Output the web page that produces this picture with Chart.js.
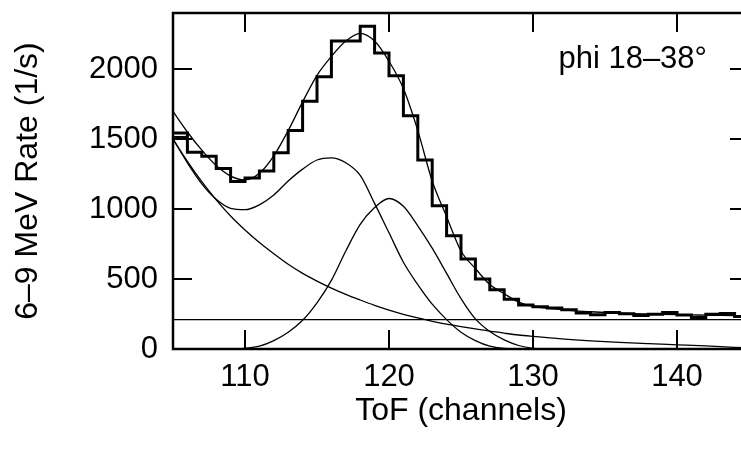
<!DOCTYPE html>
<html><head><meta charset="utf-8">
<script src="https://cdn.jsdelivr.net/npm/chart.js@4/dist/chart.umd.min.js"></script>
<style>html,body{margin:0;padding:0;overflow:hidden;background:#fff;width:741px;height:451px}canvas{display:block}</style>
</head><body>
<canvas id="c" width="770" height="451" style="width:770px;height:451px"></canvas>
<script>
// ---- data ----
const histChannels = [105,106,107,108,109,110,111,112,113,114,115,116,117,118,119,120,121,122,123,124,125,126,127,128,129,130,131,132,133,134,135,136,137,138,139,140,141,142,143,144,145];
const histRates    = [1543,1405,1376,1290,1197,1221,1272,1402,1561,1769,1945,2200,2200,2305,2114,1952,1666,1350,1024,809,643,500,424,355,315,302,293,281,257,245,260,251,239,248,260,242,225,248,254,233,233];
const leadBinChannels = [105,106];
const leadBinRates = [1511,1511];

const fitChannels = [105,106,107,108,109,110,111,112,113,114,115,116,117,118,119,120,121,122,123,124,125,126,127,128,129,130,131,132,133,134,135,136,137,138,139,140,141,142,143,144,145];
const fitTotal    = [1697,1550,1420,1310,1235,1208,1255,1380,1560,1765,1955,2090,2200,2255,2200,2055,1860,1560,1200,945,700,575,460,395,335,305,292,282,272,266,261,256,252,250,248,246,244,242,240,238,236];

const peakAChannels = [105,106,107,108,109,110,111,112,113,114,115,116,117,118,119,120,121,122,123,124,125,126,127,128,129,130];
const peakAValues   = [1500,1330,1180,1070,1005,995,1030,1100,1200,1285,1350,1365,1330,1240,1040,830,620,460,320,210,120,60,20,4,0,0];

const peakBChannels = [105,106,107,108,109,110,111,112,113,114,115,116,117,118,119,120,121,122,123,124,125,126,127,128,129,130,131];
const peakBValues   = [0,0,0,0,0,5,20,60,120,205,330,490,700,890,1010,1075,1020,880,720,540,360,215,125,65,25,5,0];

const bgChannels = [105,106,107,108,109,110,111,112,113,114,115,116,117,118,119,120,121,122,123,124,125,126,127,128,129,130,132,134,136,138,140,142,144,145];
const bgValues   = [1500,1340,1195,1065,950,850,760,680,605,540,485,435,390,350,312,278,248,222,198,178,160,143,127,113,100,90,72,58,47,38,30,22,12,8];

const constChannels = [105,145];
const constLevel = [210,210];

const xTicks = [110,120,130,140];
const yTicks = [0,500,1000,1500,2000];
const xRange = [105,145];
const yRange = [0,2400];
const annotation = 'phi 18\u201338\u00b0';
const xTitle = 'ToF (channels)';
const yTitle = '6\u20139 MeV Rate (1/s)';

const FONT = '"Liberation Sans", Arial, Helvetica, sans-serif';
const pts = (xs, ys) => xs.map((x, i) => ({x, y: ys[i]}));

const curve = (xs, ys) => ({
  data: pts(xs, ys), borderColor: '#000', borderWidth: 1.3, pointRadius: 0,
  cubicInterpolationMode: 'monotone', fill: false
});

const framePlugin = {
  id: 'frame',
  afterDraw(chart) {
    const {ctx, chartArea: a, scales: {x, y}} = chart;
    ctx.save();
    ctx.strokeStyle = '#000';
    ctx.lineWidth = 2.5;
    ctx.beginPath();
    ctx.rect(a.left, a.top, a.right - a.left, a.bottom - a.top);
    ctx.stroke();
    ctx.lineWidth = 2;
    const L = 19;
    ctx.beginPath();
    xTicks.forEach(v => {
      const px = Math.round(x.getPixelForValue(v));
      ctx.moveTo(px, a.bottom); ctx.lineTo(px, a.bottom - L);
      ctx.moveTo(px, a.top); ctx.lineTo(px, a.top + L);
    });
    yTicks.forEach(v => {
      const py = Math.round(y.getPixelForValue(v));
      ctx.moveTo(a.left, py); ctx.lineTo(a.left + L, py);
      ctx.moveTo(a.right, py); ctx.lineTo(a.right - L, py);
    });
    ctx.stroke();
    ctx.fillStyle = '#000';
    ctx.font = '31px ' + FONT;
    ctx.textAlign = 'right';
    ctx.textBaseline = 'alphabetic';
    ctx.fillText(annotation, a.right - 42, a.top + 55);
    ctx.restore();
  }
};

new Chart(document.getElementById('c'), {
  type: 'line',
  data: {
    datasets: [
      {data: pts(histChannels, histRates), stepped: 'before', borderColor: '#000', borderWidth: 3, pointRadius: 0, fill: false},
      {data: pts(leadBinChannels, leadBinRates), borderColor: '#000', borderWidth: 3, pointRadius: 0, fill: false},
      curve(fitChannels, fitTotal),
      curve(peakAChannels, peakAValues),
      curve(peakBChannels, peakBValues),
      curve(bgChannels, bgValues),
      {data: pts(constChannels, constLevel), borderColor: '#000', borderWidth: 1.3, pointRadius: 0, fill: false}
    ]
  },
  options: {
    responsive: false, animation: false, devicePixelRatio: 1,
    layout: {padding: {left: 0, top: 13, right: 21, bottom: 0}},
    plugins: {legend: {display: false}, tooltip: {enabled: false}},
    scales: {
      x: {
        type: 'linear', min: xRange[0], max: xRange[1],
        grid: {display: false}, border: {display: false},
        afterBuildTicks: s => { s.ticks = xTicks.map(v => ({value: v})); },
        afterFit: s => { s.height = 102; s.paddingLeft = 0; s.paddingRight = 0; },
        ticks: {color: '#000', font: {family: FONT, size: 31}, padding: 2, maxRotation: 0, callback: v => String(v)},
        title: {display: true, text: xTitle, color: '#000', font: {family: FONT, size: 32}, padding: {top: 0, bottom: 21}}
      },
      y: {
        type: 'linear', min: yRange[0], max: yRange[1],
        grid: {display: false}, border: {display: false},
        afterBuildTicks: s => { s.ticks = yTicks.map(v => ({value: v})); },
        afterFit: s => { s.width = 173; s.paddingTop = 0; s.paddingBottom = 0; },
        ticks: {color: '#000', font: {family: FONT, size: 31}, padding: 7, callback: v => String(v)},
        title: {display: true, text: yTitle, color: '#000', font: {family: FONT, size: 32}, padding: {top: 9, bottom: 0}}
      }
    }
  },
  plugins: [framePlugin]
});
</script>
</body></html>
